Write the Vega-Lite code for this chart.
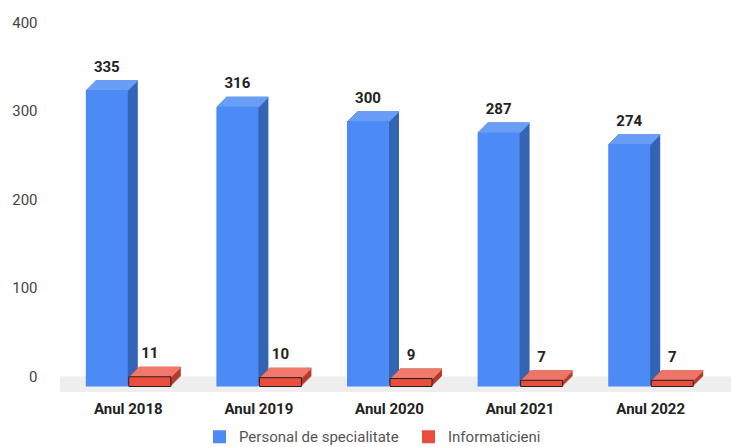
{
  "$schema": "https://vega.github.io/schema/vega-lite/v6.json",
  "width": 671,
  "height": 354,
  "autosize": {"type": "none"},
  "padding": {"left": 60, "top": 22, "right": 0, "bottom": 71},
  "config": {"font": "Roboto", "view": {"stroke": null}},
  "data": {"values": [
    {"year": "Anul 2018", "series": "Personal de specialitate", "value": 335},
    {"year": "Anul 2018", "series": "Informaticieni", "value": 11},
    {"year": "Anul 2019", "series": "Personal de specialitate", "value": 316},
    {"year": "Anul 2019", "series": "Informaticieni", "value": 10},
    {"year": "Anul 2020", "series": "Personal de specialitate", "value": 300},
    {"year": "Anul 2020", "series": "Informaticieni", "value": 9},
    {"year": "Anul 2021", "series": "Personal de specialitate", "value": 287},
    {"year": "Anul 2021", "series": "Informaticieni", "value": 7},
    {"year": "Anul 2022", "series": "Personal de specialitate", "value": 274},
    {"year": "Anul 2022", "series": "Informaticieni", "value": 7}
  ]},
  "layer": [
    {
      "data": {"values": [{}]},
      "mark": {"type": "rect", "color": "#eeeeee", "yOffset": 0.5},
      "encoding": {
        "y": {"datum": 0, "type": "quantitative", "scale": {"domain": [0, 400], "nice": false}},
        "y2": {"datum": -18}
      }
    },
    {
      "encoding": {
        "x": {"field": "year", "type": "nominal", "sort": null,
              "scale": {"range": [3, 656], "paddingInner": 0.35, "paddingOuter": 0.175},
              "axis": {"title": null, "domain": false, "ticks": false, "labelPadding": 25, "labelFontSize": 15, "labelFontWeight": "bold", "labelColor": "#222", "labelAngle": 0}},
        "y": {"field": "value", "type": "quantitative", "stack": null,
              "scale": {"domain": [0, 400], "nice": false},
              "axis": {"title": null, "values": [0, 100, 200, 300, 400], "domain": false, "ticks": false, "labelPadding": 23, "labelFontSize": 15, "labelColor": "#444",
                       "gridColor": {"condition": {"test": "datum.value === 0", "value": "#999999"}, "value": "#dddddd"}}}
      },
      "layer": [
        {
          "transform": [{"filter": "datum.series === 'Personal de specialitate'"}],
          "layer": [
            {"mark": {"type": "bar", "width": 42, "color": "#3465b5", "xOffset": -11.5, "yOffset": 0.5, "y2Offset": 0.5}, "encoding": {"y2": {"datum": 0}}},
            {"mark": {"type": "bar", "width": 42, "color": "#3465b5", "xOffset": -12.5, "yOffset": 1.5, "y2Offset": 1.5}, "encoding": {"y2": {"datum": 0}}},
            {"mark": {"type": "bar", "width": 42, "color": "#3465b5", "xOffset": -13.5, "yOffset": 2.5, "y2Offset": 2.5}, "encoding": {"y2": {"datum": 0}}},
            {"mark": {"type": "bar", "width": 42, "color": "#3465b5", "xOffset": -14.5, "yOffset": 3.5, "y2Offset": 3.5}, "encoding": {"y2": {"datum": 0}}},
            {"mark": {"type": "bar", "width": 42, "color": "#3465b5", "xOffset": -15.5, "yOffset": 4.5, "y2Offset": 4.5}, "encoding": {"y2": {"datum": 0}}},
            {"mark": {"type": "bar", "width": 42, "color": "#3465b5", "xOffset": -16.5, "yOffset": 5.5, "y2Offset": 5.5}, "encoding": {"y2": {"datum": 0}}},
            {"mark": {"type": "bar", "width": 42, "color": "#3465b5", "xOffset": -17.5, "yOffset": 6.5, "y2Offset": 6.5}, "encoding": {"y2": {"datum": 0}}},
            {"mark": {"type": "bar", "width": 42, "color": "#3465b5", "xOffset": -18.5, "yOffset": 7.5, "y2Offset": 7.5}, "encoding": {"y2": {"datum": 0}}},
            {"mark": {"type": "bar", "width": 42, "color": "#3465b5", "xOffset": -19.5, "yOffset": 8.5, "y2Offset": 8.5}, "encoding": {"y2": {"datum": 0}}},
            {"mark": {"type": "bar", "width": 42, "color": "#3465b5", "xOffset": -20.5, "yOffset": 9.5, "y2Offset": 9.5}, "encoding": {"y2": {"datum": 0}}},
            {"mark": {"type": "bar", "width": 42, "color": "#6a9ef6", "xOffset": -11.5, "yOffset": 0.5, "y2Offset": 2}, "encoding": {"y2": {"field": "value"}}},
            {"mark": {"type": "bar", "width": 42, "color": "#6a9ef6", "xOffset": -12.5, "yOffset": 1.5, "y2Offset": 3}, "encoding": {"y2": {"field": "value"}}},
            {"mark": {"type": "bar", "width": 42, "color": "#6a9ef6", "xOffset": -13.5, "yOffset": 2.5, "y2Offset": 4}, "encoding": {"y2": {"field": "value"}}},
            {"mark": {"type": "bar", "width": 42, "color": "#6a9ef6", "xOffset": -14.5, "yOffset": 3.5, "y2Offset": 5}, "encoding": {"y2": {"field": "value"}}},
            {"mark": {"type": "bar", "width": 42, "color": "#6a9ef6", "xOffset": -15.5, "yOffset": 4.5, "y2Offset": 6}, "encoding": {"y2": {"field": "value"}}},
            {"mark": {"type": "bar", "width": 42, "color": "#6a9ef6", "xOffset": -16.5, "yOffset": 5.5, "y2Offset": 7}, "encoding": {"y2": {"field": "value"}}},
            {"mark": {"type": "bar", "width": 42, "color": "#6a9ef6", "xOffset": -17.5, "yOffset": 6.5, "y2Offset": 8}, "encoding": {"y2": {"field": "value"}}},
            {"mark": {"type": "bar", "width": 42, "color": "#6a9ef6", "xOffset": -18.5, "yOffset": 7.5, "y2Offset": 9}, "encoding": {"y2": {"field": "value"}}},
            {"mark": {"type": "bar", "width": 42, "color": "#6a9ef6", "xOffset": -19.5, "yOffset": 8.5, "y2Offset": 10}, "encoding": {"y2": {"field": "value"}}},
            {"mark": {"type": "bar", "width": 42, "color": "#6a9ef6", "xOffset": -20.5, "yOffset": 9.5, "y2Offset": 11}, "encoding": {"y2": {"field": "value"}}},
            {
              "mark": {"type": "bar", "width": 42, "xOffset": -21.5, "yOffset": 10.5, "y2Offset": 10.5, "opacity": 1},
              "encoding": {
                "y2": {"datum": 0},
                "color": {"field": "series", "type": "nominal",
                          "scale": {"domain": ["Personal de specialitate", "Informaticieni"], "range": ["#4c8bf5", "#ea4d3c"]},
                          "legend": {"title": null, "orient": "none", "direction": "horizontal", "legendX": 152, "legendY": 407,
                                     "symbolType": "square", "symbolSize": 169, "symbolStrokeWidth": 0, "labelFontSize": 15, "labelColor": "#555555",
                                     "labelOffset": 12, "columnPadding": 22, "padding": 0}}
              }
            },
            {
              "mark": {"type": "text", "xOffset": -21.5, "dy": -8, "baseline": "alphabetic", "fontWeight": "bold", "fontSize": 15, "color": "#222222"},
              "encoding": {"text": {"field": "value", "type": "quantitative"}}
            }
          ]
        },
        {
          "transform": [{"filter": "datum.series === 'Informaticieni'"}],
          "layer": [
            {"mark": {"type": "bar", "width": 42, "color": "#b33a2d", "xOffset": 31.5, "yOffset": 0.5, "y2Offset": 0.5}, "encoding": {"y2": {"datum": 0}}},
            {"mark": {"type": "bar", "width": 42, "color": "#b33a2d", "xOffset": 30.5, "yOffset": 1.5, "y2Offset": 1.5}, "encoding": {"y2": {"datum": 0}}},
            {"mark": {"type": "bar", "width": 42, "color": "#b33a2d", "xOffset": 29.5, "yOffset": 2.5, "y2Offset": 2.5}, "encoding": {"y2": {"datum": 0}}},
            {"mark": {"type": "bar", "width": 42, "color": "#b33a2d", "xOffset": 28.5, "yOffset": 3.5, "y2Offset": 3.5}, "encoding": {"y2": {"datum": 0}}},
            {"mark": {"type": "bar", "width": 42, "color": "#b33a2d", "xOffset": 27.5, "yOffset": 4.5, "y2Offset": 4.5}, "encoding": {"y2": {"datum": 0}}},
            {"mark": {"type": "bar", "width": 42, "color": "#b33a2d", "xOffset": 26.5, "yOffset": 5.5, "y2Offset": 5.5}, "encoding": {"y2": {"datum": 0}}},
            {"mark": {"type": "bar", "width": 42, "color": "#b33a2d", "xOffset": 25.5, "yOffset": 6.5, "y2Offset": 6.5}, "encoding": {"y2": {"datum": 0}}},
            {"mark": {"type": "bar", "width": 42, "color": "#b33a2d", "xOffset": 24.5, "yOffset": 7.5, "y2Offset": 7.5}, "encoding": {"y2": {"datum": 0}}},
            {"mark": {"type": "bar", "width": 42, "color": "#b33a2d", "xOffset": 23.5, "yOffset": 8.5, "y2Offset": 8.5}, "encoding": {"y2": {"datum": 0}}},
            {"mark": {"type": "bar", "width": 42, "color": "#b33a2d", "xOffset": 22.5, "yOffset": 9.5, "y2Offset": 9.5}, "encoding": {"y2": {"datum": 0}}},
            {"mark": {"type": "bar", "width": 42, "color": "#f07a6c", "xOffset": 31.5, "yOffset": 0.5, "y2Offset": 2}, "encoding": {"y2": {"field": "value"}}},
            {"mark": {"type": "bar", "width": 42, "color": "#f07a6c", "xOffset": 30.5, "yOffset": 1.5, "y2Offset": 3}, "encoding": {"y2": {"field": "value"}}},
            {"mark": {"type": "bar", "width": 42, "color": "#f07a6c", "xOffset": 29.5, "yOffset": 2.5, "y2Offset": 4}, "encoding": {"y2": {"field": "value"}}},
            {"mark": {"type": "bar", "width": 42, "color": "#f07a6c", "xOffset": 28.5, "yOffset": 3.5, "y2Offset": 5}, "encoding": {"y2": {"field": "value"}}},
            {"mark": {"type": "bar", "width": 42, "color": "#f07a6c", "xOffset": 27.5, "yOffset": 4.5, "y2Offset": 6}, "encoding": {"y2": {"field": "value"}}},
            {"mark": {"type": "bar", "width": 42, "color": "#f07a6c", "xOffset": 26.5, "yOffset": 5.5, "y2Offset": 7}, "encoding": {"y2": {"field": "value"}}},
            {"mark": {"type": "bar", "width": 42, "color": "#f07a6c", "xOffset": 25.5, "yOffset": 6.5, "y2Offset": 8}, "encoding": {"y2": {"field": "value"}}},
            {"mark": {"type": "bar", "width": 42, "color": "#f07a6c", "xOffset": 24.5, "yOffset": 7.5, "y2Offset": 9}, "encoding": {"y2": {"field": "value"}}},
            {"mark": {"type": "bar", "width": 42, "color": "#f07a6c", "xOffset": 23.5, "yOffset": 8.5, "y2Offset": 10}, "encoding": {"y2": {"field": "value"}}},
            {"mark": {"type": "bar", "width": 42, "color": "#f07a6c", "xOffset": 22.5, "yOffset": 9.5, "y2Offset": 11}, "encoding": {"y2": {"field": "value"}}},
            {
              "mark": {"type": "bar", "width": 42, "xOffset": 21.5, "yOffset": 10.5, "y2Offset": 10.5, "stroke": "#222222", "strokeWidth": 1, "opacity": 1},
              "encoding": {
                "y2": {"datum": 0},
                "color": {"field": "series", "type": "nominal",
                          "scale": {"domain": ["Personal de specialitate", "Informaticieni"], "range": ["#4c8bf5", "#ea4d3c"]}}
              }
            },
            {
              "mark": {"type": "text", "xOffset": 21.5, "dy": -8, "baseline": "alphabetic", "fontWeight": "bold", "fontSize": 15, "color": "#222222"},
              "encoding": {"text": {"field": "value", "type": "quantitative"}}
            }
          ]
        }
      ]
    }
  ]
}
